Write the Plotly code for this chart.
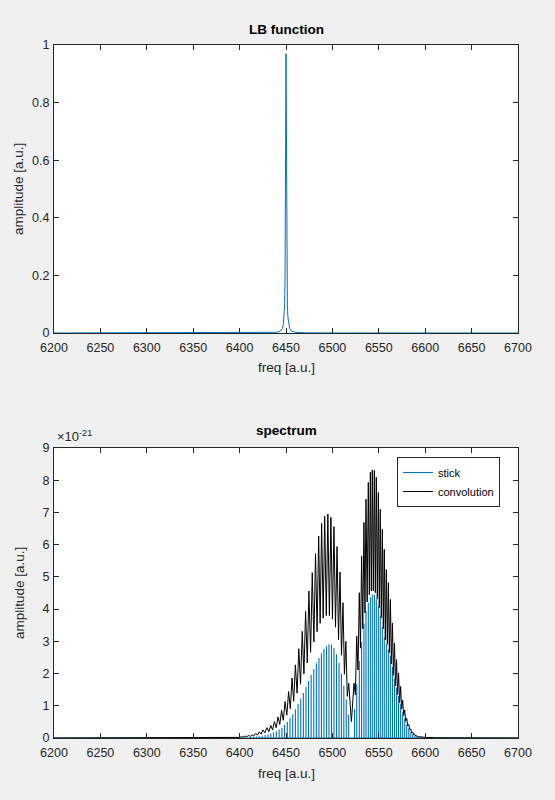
import plotly.graph_objects as go

# --- LB function (top panel) ---
lb_freq = [6200, 6400, 6430, 6440, 6444, 6446, 6447, 6448, 6448.5, 6449, 6449.25,
           6449.5, 6449.75, 6450, 6450.25, 6450.5, 6450.75, 6451, 6451.5, 6452,
           6453, 6454, 6456, 6460, 6470, 6500, 6700]
lb_amp = [0.0, 0.0001, 0.0006, 0.0024, 0.0067, 0.0149, 0.0262, 0.057, 0.097, 0.194, 0.298,
          0.485, 0.776, 0.97, 0.776, 0.485, 0.298, 0.194, 0.097, 0.057,
          0.0262, 0.0149, 0.0067, 0.0024, 0.0006, 0.0001, 0.0]

# --- spectrum (bottom panel), amplitudes in units of 1e-21 ---
# stick lines (blue)
stick_freq = [6396.0, 6399.2, 6402.4, 6405.6, 6408.8, 6412.0, 6415.1, 6418.2, 6421.3, 6424.4,
              6427.5, 6430.6, 6433.6, 6436.6, 6439.6, 6442.6, 6445.6, 6448.5, 6451.4, 6454.3,
              6457.2, 6460.1, 6463.0, 6465.9, 6468.7, 6471.5, 6474.3, 6477.1, 6479.9, 6482.7,
              6485.5, 6488.2, 6490.9, 6493.6, 6496.3, 6499.0, 6501.7, 6504.4, 6507.1, 6509.7,
              6512.3, 6514.9, 6517.5,
              6523.8, 6526.2, 6529.0, 6531.5, 6534.0, 6536.2, 6538.7, 6540.9, 6543.0, 6545.2,
              6547.3, 6549.5, 6551.6, 6553.8, 6555.9, 6558.1, 6560.3, 6562.5, 6564.7, 6566.9,
              6569.1, 6571.3, 6573.5, 6575.7, 6577.9, 6580.1, 6582.3, 6584.5, 6586.7, 6588.9,
              6591.1, 6593.3, 6595.5, 6597.7]
stick_amp = [0.008, 0.01, 0.013, 0.017, 0.022, 0.028, 0.036, 0.046, 0.058, 0.073,
             0.09, 0.11, 0.14, 0.17, 0.21, 0.26, 0.32, 0.40, 0.50, 0.61,
             0.74, 0.89, 1.05, 1.22, 1.40, 1.58, 1.77, 1.96, 2.14, 2.32,
             2.48, 2.63, 2.76, 2.85, 2.91, 2.90, 2.80, 2.60, 2.33, 2.00,
             1.62, 1.20, 0.72,
             0.90, 1.67, 2.39, 2.99, 3.55, 3.93, 4.20, 4.37, 4.45, 4.45,
             4.33, 4.10, 3.80, 3.45, 3.12, 2.90, 2.75, 2.55, 2.20, 1.85,
             1.55, 1.30, 1.05, 0.80, 0.60, 0.42, 0.30, 0.20, 0.13, 0.08,
             0.05, 0.03, 0.02, 0.01]

# convolution (black): maximum near each line, minimum between neighbours
conv_freq = [6394.4, 6398.2, 6402.0, 6405.8, 6409.6, 6413.4, 6417.3, 6421.2, 6425.2, 6429.4,
             6433.6, 6437.5, 6441.4, 6445.2, 6449.0, 6452.8, 6456.5, 6460.1, 6463.8, 6467.5,
             6471.1, 6474.7, 6478.3, 6481.8, 6485.2, 6488.4, 6491.7, 6495.1, 6498.4, 6501.7,
             6505.0, 6508.2, 6511.4, 6514.5, 6517.6,
             6523.3, 6526.2, 6529.0, 6531.5, 6534.0, 6536.2, 6538.7, 6540.9, 6543.0, 6545.2,
             6547.3, 6549.5, 6551.6, 6553.8, 6555.9, 6558.1, 6560.3, 6562.5, 6564.7, 6566.9,
             6569.1, 6571.3, 6573.5, 6575.7, 6577.9, 6580.1, 6582.3, 6584.5, 6586.7, 6588.9,
             6591.1, 6593.3]
conv_peak = [0.02, 0.03, 0.04, 0.06, 0.08, 0.10, 0.14, 0.19, 0.25, 0.32,
             0.39, 0.51, 0.65, 0.86, 1.13, 1.44, 1.86, 2.27, 2.77, 3.31,
             3.93, 4.56, 5.13, 5.72, 6.27, 6.66, 6.88, 6.95, 6.85, 6.56,
             5.94, 5.15, 4.20, 3.00, 1.70,
             1.70, 3.16, 4.51, 5.65, 6.69, 7.41, 7.93, 8.25, 8.32, 8.30,
             8.09, 7.62, 7.10, 6.48, 5.86, 5.23, 4.82, 4.30, 3.57, 2.95,
             2.43, 2.02, 1.60, 1.18, 0.87, 0.61, 0.42, 0.28, 0.18, 0.11,
             0.07, 0.04]
conv_dip = [0.014, 0.019, 0.028, 0.039, 0.05, 0.066, 0.09, 0.12, 0.16, 0.195,
            0.25, 0.32, 0.42, 0.55, 0.71, 0.91, 1.14, 1.39, 1.67, 1.99,
            2.33, 2.66, 2.98, 3.30, 3.56, 3.72, 3.80, 3.80, 3.69, 3.44,
            3.05, 2.57, 1.98, 1.29,
            0.51,
            1.34, 2.11, 2.79, 3.39, 3.88, 4.22, 4.45, 4.56, 4.57, 4.51,
            4.32, 4.05, 3.73, 3.39, 3.05, 2.90, 2.65, 2.30, 1.95, 1.62,
            1.35, 1.10, 0.90, 0.70, 0.52, 0.38, 0.26, 0.16, 0.10, 0.06,
            0.035]
conv_tail_left_freq = [6200, 6380]
conv_tail_left_amp = [0.0, 0.008]
conv_tail_right_freq = [6600, 6612, 6630, 6700]
conv_tail_right_amp = [0.02, 0.008, 0.003, 0.0]

x_ticks = [6200, 6250, 6300, 6350, 6400, 6450, 6500, 6550, 6600, 6650, 6700]

blue = "#0072BD"
axcol = "#262626"
font = "Liberation Sans"

# stick trace: baseline with a spike at every line
stick_x, stick_y = [6200], [0]
for f, a in zip(stick_freq, stick_amp):
    stick_x += [f, f, f]
    stick_y += [0, a, 0]
stick_x.append(6700)
stick_y.append(0)

# convolution trace: peak at each line, dip halfway to the next one
conv_x = list(conv_tail_left_freq)
conv_y = list(conv_tail_left_amp)
for i, (f, p) in enumerate(zip(conv_freq, conv_peak)):
    conv_x.append(f)
    conv_y.append(p)
    if i < len(conv_dip):
        conv_x.append((f + conv_freq[i + 1]) / 2)
        conv_y.append(conv_dip[i])
conv_x += conv_tail_right_freq
conv_y += conv_tail_right_amp

fig = go.Figure()
fig.add_trace(go.Scatter(x=lb_freq, y=lb_amp, mode="lines", line=dict(color=blue, width=1),
                         showlegend=False, xaxis="x", yaxis="y"))
fig.add_trace(go.Scatter(x=stick_x, y=stick_y, mode="lines", name="stick",
                         line=dict(color=blue, width=1.1), xaxis="x2", yaxis="y2"))
fig.add_trace(go.Scatter(x=conv_x, y=conv_y, mode="lines", name="convolution",
                         line=dict(color="black", width=1), xaxis="x2", yaxis="y2"))

W, H = 555, 800
xdom = [54 / W, 518 / W]
axis_common = dict(showline=True, linecolor=axcol, linewidth=1, mirror="ticks",
                   ticks="inside", ticklen=5, tickcolor=axcol, showgrid=False,
                   zeroline=False, automargin=False,
                   tickfont=dict(family=font, size=12.5, color=axcol))


def label(text, x, y, size=13.5, angle=0, color=axcol, xanchor="center", yanchor="middle"):
    return dict(text=text, x=x / W, y=1 - y / H, xref="paper", yref="paper",
                xanchor=xanchor, yanchor=yanchor, showarrow=False, textangle=angle,
                font=dict(family=font, size=size, color=color))


fig.update_layout(
    width=W, height=H, autosize=False,
    margin=dict(l=0, r=0, t=0, b=0),
    paper_bgcolor="#F0F0F0", plot_bgcolor="white",
    font=dict(family=font, color=axcol),
    xaxis=dict(domain=xdom, anchor="y", range=[6200, 6700], tickvals=x_ticks,
               ticklabelstandoff=3, **axis_common),
    yaxis=dict(domain=[1 - 333 / H, 1 - 45 / H], anchor="x", range=[0, 1],
               tickvals=[0, 0.2, 0.4, 0.6, 0.8, 1], ticktext=["0", "0.2", "0.4", "0.6", "0.8", "1"],
               ticklabelstandoff=1, **axis_common),
    xaxis2=dict(domain=xdom, anchor="y2", range=[6200, 6700], tickvals=x_ticks,
                ticklabelstandoff=3, **axis_common),
    yaxis2=dict(domain=[1 - 738 / H, 1 - 448 / H], anchor="x2", range=[0, 9],
                tickvals=list(range(10)), ticklabelstandoff=1, **axis_common),
    legend=dict(x=397 / W, y=1 - 457 / H, xanchor="left", yanchor="top",
                bgcolor="white", bordercolor=axcol, borderwidth=1,
                font=dict(family=font, size=11, color="black"),
                tracegroupgap=0, itemwidth=30),
    annotations=[
        label("<b>LB function</b>", 286, 30, color="black"),
        label("<b>spectrum</b>", 286, 430, color="black"),
        label("amplitude [a.u.]", 19, 189, angle=-90),
        label("amplitude [a.u.]", 19, 593, angle=-90),
        label("freq [a.u.]", 286, 367),
        label("freq [a.u.]", 286, 773),
        label("\u00d710<sup>-21</sup>", 55, 446, size=13, xanchor="left", yanchor="bottom"),
    ],
)

fix_page = (
    "document.body.style.margin='0';"
    "document.body.style.overflow='hidden';"
    "Plotly.relayout(document.getElementById('{plot_id}'), {width: 555, height: 800});"
)
fig.write_html("out.html", post_script=fix_page,
               config={"responsive": False, "displayModeBar": False})
